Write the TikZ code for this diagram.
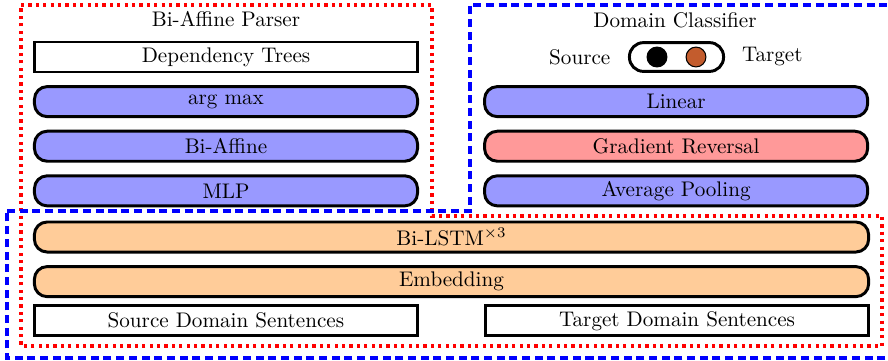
\documentclass[tikz,border=0pt]{standalone}
\usepackage{tikz}
\usetikzlibrary{positioning,calc}
\definecolor{srcdot}{RGB}{195,92,45}
\tikzset{
  lyr/.style={draw=black,line width=1.4pt,rounded corners=6pt,minimum width=181.2pt,minimum height=14.2pt,inner sep=1pt},
  lyrB/.style={lyr,fill=blue!40},
  lyrR/.style={lyr,fill=red!40},
  lyrO/.style={lyr,fill=orange!40,minimum width=394.6pt},
  tbox/.style={draw=black,line width=1.4pt,minimum width=181.2pt,minimum height=14.2pt,inner sep=1pt},
  ttl/.style={inner sep=1pt},
  pill/.style={draw=black,line width=1.4pt,rounded corners=6.6pt,minimum width=44.5pt,minimum height=13.6pt},
  dot/.style={circle,draw=black,line width=0.5pt,minimum size=9.4pt,inner sep=0pt},
  redfr/.style={red,line width=1.5pt,dotted},
  blufr/.style={blue,line width=1.5pt,dash pattern=on 3.8pt off 2.2pt},
}

\begin{document}
\begin{tikzpicture}[x=0.473pt,y=-0.473pt,node distance=5.5pt]
  \clip (0,0) rectangle (888,360);
  % parser column
  \node[ttl] (tpar) at (226,19) {Bi-Affine Parser};
  \node[tbox] (dep) at (226,57) {Dependency Trees};
  \node[lyrB] (amax) [below=of dep] {arg max};
  \node[lyrB] (biaf) [below=of amax] {Bi-Affine};
  \node[lyrB] (mlp) [below=of biaf] {MLP};
  % classifier column
  \node[ttl] (tcls) at (675,20) {Domain Classifier};
  \node[pill] (tog) at (676.5,57) {};
  \node[dot,fill=black] (dsrc) at (657,57) {};
  \node[dot,fill=srcdot] (dtgt) at (696,57) {};
  \node (lsrc) [left=4.8pt of tog] {Source};
  \node (ltgt) [right=4.5pt of tog] {Target};
  \node[lyrB] (lin) [right=30.3pt of amax] {Linear};
  \node[lyrR] (grev) [right=30.3pt of biaf] {Gradient Reversal};
  \node[lyrB] (pool) [right=30.3pt of mlp] {Average Pooling};
  % shared encoder
  \node[lyrO] (lstm) at (451.5,237) {Bi-LSTM$^{\times3}$};
  \node[lyrO] (emb) [below=of lstm] {Embedding};
  \node[tbox] (ssrc) [below=2.9pt of emb.south west,anchor=north west] {Source Domain Sentences};
  \node[tbox] (stgt) [below=2.9pt of emb.south east,anchor=north east] {Target Domain Sentences};
  % frames
  \draw[redfr] (21,5) -- (432,5) -- (432,216) -- (882,216) -- (882,346) -- (21,346) -- cycle;
  \draw[blufr] (7,211) -- (470,211) -- (470,5) -- (896,5) -- (896,358) -- (7,358) -- cycle;
\end{tikzpicture}
\end{document}
